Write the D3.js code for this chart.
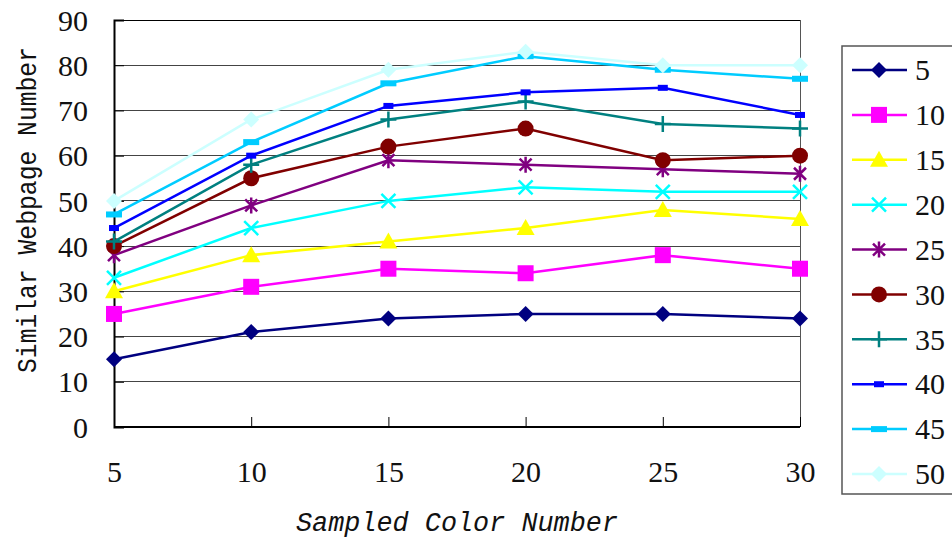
<!DOCTYPE html>
<html><head><meta charset="utf-8">
<script src="https://cdn.jsdelivr.net/npm/d3@7"></script>
<style>body{margin:0;background:#fff}svg{display:block}</style>
</head><body><svg id="c" width="952" height="539"></svg>
<script>
const xCats = [5, 10, 15, 20, 25, 30];
const yTicks = [0, 10, 20, 30, 40, 50, 60, 70, 80, 90];
const seriesNames = ["5", "10", "15", "20", "25", "30", "35", "40", "45", "50"];
const s5  = [15, 21, 24, 25, 25, 24];
const s10 = [25, 31, 35, 34, 38, 35];
const s15 = [30, 38, 41, 44, 48, 46];
const s20 = [33, 44, 50, 53, 52, 52];
const s25 = [38, 49, 59, 58, 57, 56];
const s30 = [40, 55, 62, 66, 59, 60];
const s35 = [41, 58, 68, 72, 67, 66];
const s40 = [44, 60, 71, 74, 75, 69];
const s45 = [47, 63, 76, 82, 79, 77];
const s50 = [50, 68, 79, 83, 80, 80];
const seriesValues = [s5, s10, s15, s20, s25, s30, s35, s40, s45, s50];
const colors = ["#000080", "#FF00FF", "#FFFF00", "#00FFFF", "#800080", "#800000", "#008080", "#0000FF", "#00CCFF", "#CCFFFF"];
const markers = ["diamond", "square", "triangle", "x", "asterisk", "circle", "plus", "dashS", "dashL", "diamond"];
const xTitle = "Sampled Color Number";
const yTitle = "Similar Webpage Number";

const svg = d3.select("#c");
const L = 114, R = 800, T = 20, B = 427;
const x = d3.scaleLinear().domain([5, 30]).range([L, R]);
const y = d3.scaleLinear().domain([0, 90]).range([B, T]);
const serif = "'Liberation Serif', 'Times New Roman', serif";

// gridlines
svg.append("g").selectAll("line").data(yTicks.filter(v => v > 0)).join("line")
  .attr("x1", L).attr("x2", R).attr("y1", d => y(d)).attr("y2", d => y(d))
  .attr("stroke", d => d === 90 ? "#000" : "#444").attr("stroke-width", 1).attr("shape-rendering", "crispEdges");
// right border
svg.append("line").attr("x1", R).attr("x2", R).attr("y1", T).attr("y2", B)
  .attr("stroke", "#555").attr("stroke-width", 1).attr("shape-rendering", "crispEdges");

// y axis
const yAxis = d3.axisLeft(y).tickValues(yTicks).tickSize(-10).tickPadding(26).tickFormat(d3.format("d"));
const gy = svg.append("g").attr("transform", `translate(${L},0)`).call(yAxis);
gy.select(".domain").attr("stroke", "#000").attr("stroke-width", 2);
gy.selectAll(".tick line").attr("stroke", "#000");
gy.selectAll("text").attr("font-family", serif).attr("font-size", 30).attr("fill", "#111").attr("dy", "0.34em");

// x axis
const xAxis = d3.axisBottom(x).tickValues(xCats).tickSize(-10).tickPadding(34).tickFormat(d3.format("d"));
const gx = svg.append("g").attr("transform", `translate(0,${B})`).call(xAxis);
gx.select(".domain").attr("stroke", "#000").attr("stroke-width", 2).attr("d", `M${L},0H${R}`);
gx.selectAll(".tick line").attr("stroke", "#000");
gx.selectAll("text").attr("font-family", serif).attr("font-size", 30).attr("fill", "#111").attr("dy", "0.71em");

// titles
svg.append("text").attr("x", 457).attr("y", 531).attr("text-anchor", "middle")
  .attr("font-family", "'Liberation Mono', 'DejaVu Sans Mono', monospace").attr("font-style", "italic")
  .attr("font-size", 27).attr("fill", "#111").attr("textLength", 322).attr("lengthAdjust", "spacingAndGlyphs")
  .text(xTitle);
svg.append("text").attr("transform", "translate(36,210) rotate(-90)").attr("text-anchor", "middle")
  .attr("font-family", "'Liberation Mono', 'DejaVu Sans Mono', monospace")
  .attr("font-size", 27).attr("fill", "#111").attr("textLength", 326).attr("lengthAdjust", "spacingAndGlyphs")
  .text(yTitle);

function drawMarker(g, type, color) {
  switch (type) {
    case "diamond": g.append("path").attr("d", "M0,-8L8,0L0,8L-8,0Z").attr("fill", color); break;
    case "square": g.append("rect").attr("x", -8).attr("y", -8).attr("width", 16).attr("height", 16).attr("fill", color); break;
    case "triangle": g.append("path").attr("d", "M0,-9L9,7L-9,7Z").attr("fill", color); break;
    case "circle": g.append("circle").attr("r", 8).attr("fill", color); break;
    case "x": g.append("path").attr("d", "M-7,-7L7,7M-7,7L7,-7").attr("stroke", color).attr("stroke-width", 2.5).attr("fill", "none"); break;
    case "asterisk": g.append("path").attr("d", "M-6,-6L6,6M-6,6L6,-6M0,-8L0,8").attr("stroke", color).attr("stroke-width", 2.5).attr("fill", "none"); break;
    case "plus": g.append("path").attr("d", "M-8,0L8,0M0,-8L0,8").attr("stroke", color).attr("stroke-width", 2.5).attr("fill", "none"); break;
    case "dashS": g.append("rect").attr("x", -5).attr("y", -3).attr("width", 10).attr("height", 6).attr("fill", color); break;
    case "dashL": g.append("rect").attr("x", -8).attr("y", -3).attr("width", 16).attr("height", 6).attr("fill", color); break;
  }
}

const line = d3.line().x((d, i) => x(xCats[i])).y(d => y(d));
seriesValues.forEach((vals, si) => {
  const g = svg.append("g");
  g.append("path").attr("d", line(vals)).attr("fill", "none").attr("stroke", colors[si]).attr("stroke-width", 2.5);
  vals.forEach((v, i) => {
    const mg = g.append("g").attr("transform", `translate(${x(xCats[i])},${y(v)})`);
    drawMarker(mg, markers[si], colors[si]);
  });
});

// legend
const lg = svg.append("g");
lg.append("rect").attr("x", 842).attr("y", 46).attr("width", 130).attr("height", 448)
  .attr("fill", "#fff").attr("stroke", "#555").attr("stroke-width", 1.5);
const ly = d3.scalePoint().domain(seriesNames).range([70, 474]);
seriesNames.forEach((n, si) => {
  const yy = ly(n);
  lg.append("line").attr("x1", 852).attr("x2", 907).attr("y1", yy).attr("y2", yy)
    .attr("stroke", colors[si]).attr("stroke-width", 2.5);
  const mg = lg.append("g").attr("transform", `translate(879,${yy})`);
  drawMarker(mg, markers[si], colors[si]);
  lg.append("text").attr("x", 915).attr("y", yy).attr("dy", "0.34em")
    .attr("font-family", serif).attr("font-size", 30).attr("fill", "#111").text(n);
});
</script></body></html>
